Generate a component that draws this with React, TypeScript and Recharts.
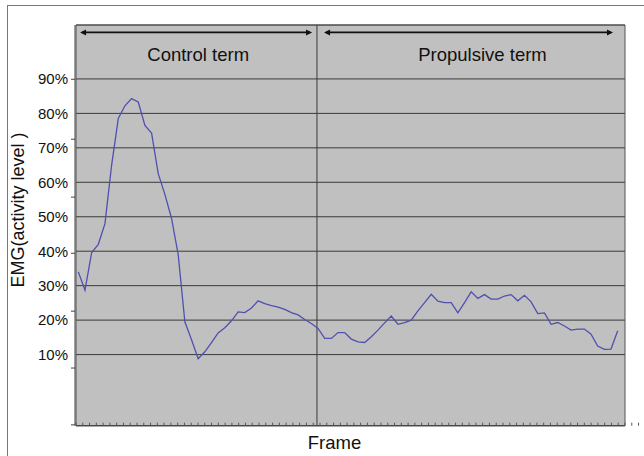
import React from 'react';
import {
  ComposedChart, Line, XAxis, YAxis, CartesianGrid, ReferenceLine, ReferenceArea, ReferenceDot,
} from 'recharts';

// EMG activity level (%) per frame
const emg: number[] = [
  34.0, 28.7, 39.6, 42.0, 48.0, 65.0, 78.5, 82.2, 84.3, 83.3,
  76.5, 74.3, 62.5, 56.5, 49.5, 39.0, 19.5, 14.3, 8.8, 10.8,
  13.5, 16.3, 17.8, 19.8, 22.4, 22.2, 23.5, 25.6, 24.8, 24.2,
  23.8, 23.1, 22.2, 21.5, 20.2, 19.0,
  17.6, 14.7, 14.7, 16.4, 16.4, 14.5, 13.7, 13.5, 15.2, 17.1,
  19.2, 21.2, 18.8, 19.3, 20.0, 22.7, 25.1, 27.5, 25.5, 25.1,
  25.1, 22.1, 25.1, 28.2,
  26.3, 27.4, 26.1, 26.1, 27.0, 27.4, 25.6, 27.2, 25.3, 21.9,
  22.1, 18.8, 19.3, 18.3, 17.1, 17.4, 17.4, 15.9, 12.5, 11.5,
  11.6, 16.9,
];
const frames: number[] = emg.map((_, i) => i);

const yTicks: number[] = [10, 20, 30, 40, 50, 60, 70, 80, 90];
const yMinorTicks: number[] = [89.9, 72.5, 55.7, 39.4, 22.6, 6.1, -10.4];
const xDomain: [number, number] = [-0.35, 82.1];
const yDomain: [number, number] = [-10.64, 105.65];
const xMinorDomain: [number, number] = [0, 97];
const xMinorTicks: number[] = Array.from({ length: 98 }, (_, i) => i);

const phaseDivider = 35.84;
const phases = [
  { label: 'Control term', from: 0.26, to: 35.1, textX: 18.0 },
  { label: 'Propulsive term', from: 36.9, to: 80.3, textX: 60.7 },
];
const arrowY = 103.5;
const headerTextY = 97.1;

const data = frames.map((f, i) => ({ frame: f, emg: emg[i] }));

const FONT = '"Liberation Sans", Arial, sans-serif';

const ArrowShape = (p: any) => {
  const { x1, y1, x2, y2 } = p;
  const h = 6;
  const w = 3;
  return (
    <g>
      <line x1={x1 + 2} y1={y1} x2={x2 - 2} y2={y2} stroke="#111" strokeWidth={1.6} />
      <polygon points={`${x1},${y1} ${x1 + h},${y1 - w} ${x1 + h},${y1 + w}`} fill="#111" />
      <polygon points={`${x2},${y2} ${x2 - h},${y2 - w} ${x2 - h},${y2 + w}`} fill="#111" />
    </g>
  );
};

const headerText = (label: string) => (p: any) => (
  <text x={p.cx} y={p.cy} textAnchor="middle" dominantBaseline="central"
    fontFamily={FONT} fontSize={18.5} fill="#111">{label}</text>
);

export default function App() {
  return (
    <div style={{ position: 'absolute', left: 0, top: 0, width: 644, height: 456, background: '#fff' }}>
      <div style={{ position: 'absolute', left: 7, top: 5, width: 637, height: 451, borderTop: '1px solid #777', borderLeft: '1px solid #777', boxSizing: 'border-box' }} />
      <ComposedChart
        width={644}
        height={456}
        data={data}
        margin={{ top: 25, right: 19, bottom: 0, left: 74 }}
        style={{ position: 'absolute', left: 0, top: 0 }}
      >
        <CartesianGrid vertical={false} stroke="#3a3a3a" strokeWidth={1} fill="#c0c0c0" fillOpacity={1} />
        <XAxis
          xAxisId="minor"
          type="number"
          domain={xMinorDomain}
          ticks={xMinorTicks}
          interval={0}
          tickSize={-3}
          tickMargin={0}
          tickFormatter={() => ''}
          tickLine={{ stroke: '#555' }}
          axisLine={{ stroke: '#444' }}
          height={30.3}
          label={{
            content: ({ viewBox }: any) => (
              <text x={viewBox.x + viewBox.width / 2 - 16} y={viewBox.y + 23.5} textAnchor="middle"
                fontFamily={FONT} fontSize={18.5} fill="#111">Frame</text>
            ),
          }}
        />
        <XAxis dataKey="frame" type="number" domain={xDomain} hide allowDataOverflow height={0} />
        <YAxis
          yAxisId="minor"
          type="number"
          domain={yDomain}
          ticks={yMinorTicks}
          interval={0}
          width={1}
          allowDataOverflow
          axisLine={{ stroke: '#444' }}
          tickSize={4}
          tickLine={{ stroke: '#444' }}
          tickFormatter={() => ''}
        />
        <YAxis
          type="number"
          domain={yDomain}
          ticks={yTicks}
          interval={0}
          width={1}
          allowDataOverflow
          axisLine={false}
          tickLine={false}
          tickSize={6}
          tickMargin={2}
          tickFormatter={(v: number) => `${v}%`}
          tick={{ fill: '#111', fontSize: 15, fontFamily: FONT }}
          label={{
            content: () => (
              <text x={17.5} y={210} textAnchor="middle" dominantBaseline="central"
                transform="rotate(-90, 17.5, 210)" fontFamily={FONT} fontSize={18} fill="#111">
                EMG(activity level )
              </text>
            ),
          }}
        />
        <ReferenceArea x1={xDomain[0]} x2={xDomain[1]} y1={yDomain[0]} y2={yDomain[1]}
          fill="none" stroke="#555" strokeWidth={1} ifOverflow="visible" />
        <ReferenceLine x={phaseDivider} stroke="#3a3a3a" strokeWidth={1} />
        {phases.map((ph) => (
          <ReferenceLine key={ph.label} segment={[{ x: ph.from, y: arrowY }, { x: ph.to, y: arrowY }]}
            shape={ArrowShape} ifOverflow="visible" />
        ))}
        {phases.map((ph) => (
          <ReferenceDot key={'t' + ph.label} x={ph.textX} y={headerTextY} r={0}
            shape={headerText(ph.label)} ifOverflow="visible" />
        ))}
        <Line dataKey="emg" type="linear" stroke="#5050b0" strokeWidth={1.3} dot={false} isAnimationActive={false} />
      </ComposedChart>
    </div>
  );
}
